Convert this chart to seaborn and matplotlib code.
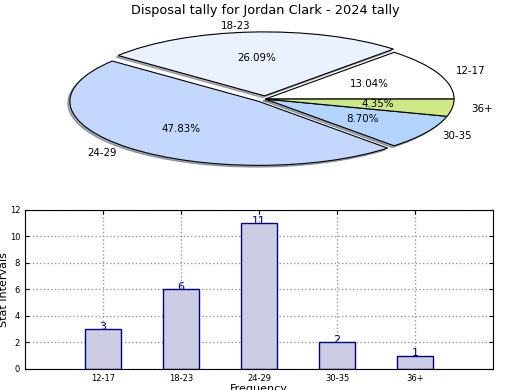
import matplotlib
matplotlib.use("Agg")
import matplotlib.pyplot as plt
import seaborn as sns
import pandas as pd

# disposal counts per interval
intervals = ['12-17', '18-23', '24-29', '30-35', '36+']
counts = [3, 6, 11, 2, 1]
pie_colors = ['#ffffff', '#eaf2ff', '#c4d8ff', '#b3d4ff', '#cce986']
explode = [0, 0.05, 0.05, 0, 0]

df = pd.DataFrame({'Interval': intervals, 'Count': counts})

fig = plt.figure(figsize=(5.2, 3.9), dpi=100)

# pie on top, stretched into an ellipse
ax_pie = fig.add_axes([0.056, 0.541, 0.908, 0.41])
ax_pie.pie(counts, labels=intervals, colors=pie_colors, explode=explode,
           autopct='%1.2f%%', shadow={'ox': -0.008, 'oy': -0.02, 'shade': 0.6},
           wedgeprops={'edgecolor': 'black', 'linewidth': 0.8},
           textprops={'fontsize': 7.4})
ax_pie.set_aspect('auto')
ax_pie.set_title('Disposal tally for Jordan Clark - 2024 tally', fontsize=9.3, pad=4)

# bar chart below
ax_bar = fig.add_axes([0.048, 0.054, 0.9, 0.408])
sns.barplot(data=df, x='Interval', y='Count', ax=ax_bar, width=0.45,
            color='#ccccE5', edgecolor='#000080', linewidth=1, saturation=1)
for cont in ax_bar.containers:
    ax_bar.bar_label(cont, color='#000080', fontsize=8, padding=-2)
ax_bar.set_xlim(-1, 5)
ax_bar.set_ylim(0, 12)
ax_bar.set_yticks(range(0, 13, 2))
ax_bar.grid(True, linestyle=':', color='#999999', linewidth=1)
ax_bar.set_axisbelow(True)
ax_bar.tick_params(labelsize=6, direction='in', top=True, right=True, length=3)
ax_bar.set_xlabel('Frequency', fontsize=8, labelpad=1)
ax_bar.set_ylabel('Stat Intervals', fontsize=8, labelpad=0.5)

fig.savefig('out.png', dpi=100)
